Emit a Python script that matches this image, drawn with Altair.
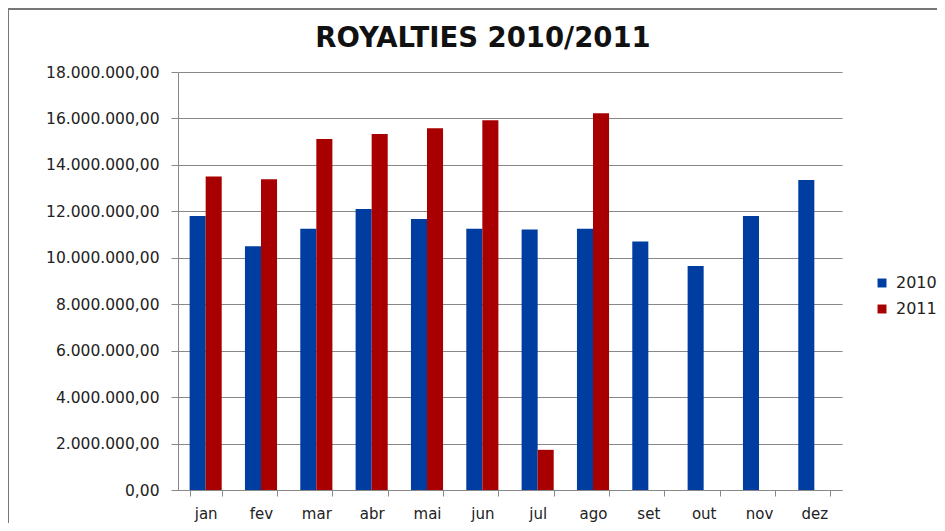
import altair as alt
import pandas as pd

months = ["jan", "fev", "mar", "abr", "mai", "jun", "jul", "ago", "set", "out", "nov", "dez"]
series = ["2010", "2011"]
colors = ["#003DA0", "#A80000"]
v2010 = [11.80, 10.50, 11.25, 12.10, 11.67, 11.25, 11.22, 11.25, 10.70, 9.65, 11.80, 13.35]
v2011 = [13.50, 13.38, 15.12, 15.33, 15.58, 15.92, 1.73, 16.22]
y_ticks = [0, 2, 4, 6, 8, 10, 12, 14, 16, 18]
title_text = "ROYALTIES 2010/2011"

rows = []
for m, v in zip(months, v2010):
    rows.append({"mes": m, "ano": "2010", "valor": v * 1_000_000})
for m, v in zip(months, v2011):
    rows.append({"mes": m, "ano": "2011", "valor": v * 1_000_000})
df = pd.DataFrame(rows)

FONT = "DejaVu Sans"
label_expr = ("replace(replace(replace(format(datum.value, ',.2f'), regexp(',', 'g'), '_'), "
              "'.', ','), regexp('_', 'g'), '.')")

bars = alt.Chart(df).mark_bar().encode(
    x=alt.X("mes:N", sort=months, title=None,
            scale=alt.Scale(paddingInner=0.42, paddingOuter=0.21),
            axis=alt.Axis(labelAngle=0, tickBand="extent", tickSize=6, labelPadding=10,
                          labelFontSize=15, labelFont=FONT, labelColor="#222",
                          domainColor="#888", tickColor="#888", grid=False)),
    xOffset=alt.XOffset("ano:N", sort=series),
    y=alt.Y("valor:Q", title=None,
            scale=alt.Scale(domain=[0, 18_000_000], nice=False),
            axis=alt.Axis(values=[t * 1_000_000 for t in y_ticks], labelExpr=label_expr,
                          tickSize=7, labelPadding=12, labelFontSize=15.5, labelFont=FONT,
                          labelColor="#222", domainColor="#888", tickColor="#888",
                          gridColor="#888", gridWidth=1)),
    color=alt.Color("ano:N", sort=series, title=None,
                    scale=alt.Scale(domain=series, range=colors),
                    legend=alt.Legend(orient="none", legendX=696, legendY=203,
                                      symbolType="square", symbolSize=80,
                                      symbolStrokeWidth=0, labelFontSize=16,
                                      labelFont=FONT, labelColor="#222",
                                      rowPadding=10, labelOffset=6)),
)

frame_df = pd.DataFrame({"k": [0]})
frame_v = alt.Chart(frame_df).mark_rule(color="#777", strokeWidth=2).encode(
    x=alt.value(-170), y=alt.value(-64), y2=alt.value(460))
frame_h = alt.Chart(frame_df).mark_rule(color="#777", strokeWidth=2).encode(
    x=alt.value(-170), x2=alt.value(800), y=alt.value(-63))

title = alt.Chart(pd.DataFrame({"t": [title_text]})).mark_text(
    font=FONT, fontSize=27.5, fontWeight="bold", color="#111",
    align="center", baseline="middle").encode(
    text="t:N", x=alt.value(305), y=alt.value(-33))

chart = alt.layer(frame_v, frame_h, title, bars).properties(
    width=664, height=418,
    autosize=alt.AutoSizeParams(type="none"),
    padding={"left": 170, "top": 64, "right": 95, "bottom": 33},
).configure_view(stroke=None)

chart.save("out.html", embed_options={"renderer": "svg", "actions": False})
